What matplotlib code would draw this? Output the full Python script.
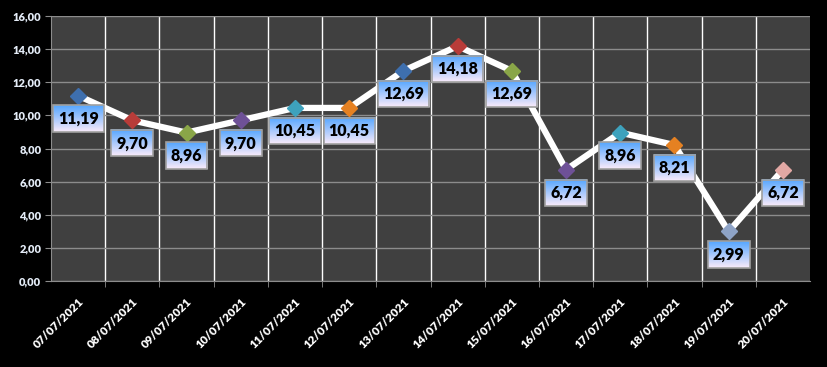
import numpy as np
import matplotlib
matplotlib.use('Agg')
import matplotlib.pyplot as plt
from matplotlib.ticker import FuncFormatter

# data
dates = ['07/07/2021', '08/07/2021', '09/07/2021', '10/07/2021', '11/07/2021',
         '12/07/2021', '13/07/2021', '14/07/2021', '15/07/2021', '16/07/2021',
         '17/07/2021', '18/07/2021', '19/07/2021', '20/07/2021']
values = [11.19, 9.70, 8.96, 9.70, 10.45, 10.45, 12.69, 14.18, 12.69, 6.72,
          8.96, 8.21, 2.99, 6.72]
marker_colors = ['#3e6fae', '#b83c39', '#8aa648', '#6e5197', '#3ea2bd', '#e58122',
                 '#3e6fae', '#b83c39', '#8aa648', '#6e5197', '#3ea2bd', '#e58122',
                 '#8ea3c6', '#e2a8a4']

plt.rcParams['font.family'] = ['Lato', 'DejaVu Sans']

fig = plt.figure(figsize=(8.27, 3.67), dpi=100, facecolor='black')
ax = fig.add_axes([51 / 827, 86 / 367, 759 / 827, 265 / 367])
ax.set_facecolor('#404040')

x = np.arange(len(values))
ax.plot(x, values, color='white', lw=4.5, zorder=3, solid_capstyle='round')
for xi, v, c in zip(x, values, marker_colors):
    ax.plot(xi, v, marker='D', markersize=8, color=c, markeredgecolor=c,
            zorder=4)

ax.set_xlim(-0.5, len(values) - 0.5)
ax.set_ylim(0, 16)
ax.set_yticks(np.arange(0, 17, 2))
ax.yaxis.set_major_formatter(FuncFormatter(lambda v, p: f'{v:.2f}'.replace('.', ',')))
ax.tick_params(axis='y', colors='#8c8c8c', labelcolor='#e4ecf7', length=4,
               labelsize=8, pad=3)
for t in ax.get_yticklabels():
    t.set_fontweight('heavy')

ax.set_xticks(x)
ax.set_xticklabels(dates, rotation=45, ha='right', rotation_mode='anchor',
                   color='white', fontsize=8.5, fontweight='heavy')
ax.set_xticks(np.arange(0.5, len(values) - 1, 1), minor=True)
ax.tick_params(axis='x', which='major', length=0, pad=11)
ax.tick_params(axis='x', which='minor', length=4, color='#8c8c8c')

ax.grid(axis='y', color='#8c8c8c', lw=1)
ax.grid(axis='x', which='minor', color='white', lw=1)
ax.set_axisbelow(True)
for s in ['top', 'right']:
    ax.spines[s].set_visible(False)
for s in ['left', 'bottom']:
    ax.spines[s].set_color('#8c8c8c')

# data labels
anns = []
for xi, v in zip(x, values):
    a = ax.annotate(f'{v:.2f}'.replace('.', ','), (xi, v), xytext=(0, -16.5),
                    textcoords='offset points', ha='center', va='center',
                    fontsize=11.5, fontweight='heavy', color='black', zorder=6,
                    bbox=dict(boxstyle='square,pad=0.32', fc='none',
                              ec='#a0a0a0', lw=1.2))
    anns.append(a)

fig.canvas.draw()
renderer = fig.canvas.get_renderer()
top = np.array([0.33, 0.65, 1.0])
bot = np.array([0.98, 0.92, 0.98])
grad = np.linspace(0, 1, 64)[:, None, None]
img = top * (1 - grad) + bot * grad
img = np.repeat(img, 2, axis=1)
inv = ax.transData.inverted()
for a in anns:
    bb = a.get_bbox_patch().get_window_extent(renderer)
    (x0, y0), (x1, y1) = inv.transform([[bb.x0, bb.y0], [bb.x1, bb.y1]])
    ax.imshow(img, extent=(x0, x1, y0, y1), aspect='auto', zorder=5,
              interpolation='bilinear')
ax.set_xlim(-0.5, len(values) - 0.5)
ax.set_ylim(0, 16)

fig.savefig('out.png', dpi=100, facecolor='black')
